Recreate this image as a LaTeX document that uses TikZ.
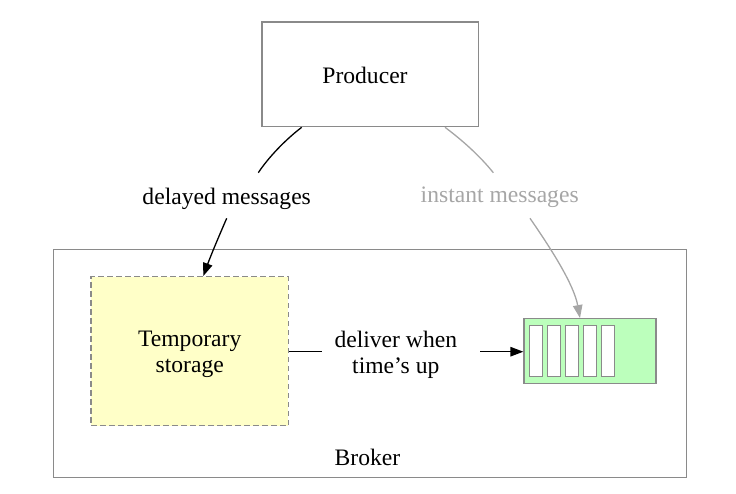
\documentclass[tikz,border=0pt]{standalone}
\usepackage{fontspec}
\setmainfont{Liberation Serif}
\usetikzlibrary{arrows.meta,calc}
\definecolor{framegray}{HTML}{8A8A8A}
\definecolor{softgray}{HTML}{A6A6A6}
\definecolor{paleyellow}{HTML}{FFFFC8}
\definecolor{palegreen}{HTML}{BCFFBC}
\begin{document}
\begin{tikzpicture}[x=1pt,y=-1pt,
  txt/.style={font=\fontsize{23.6}{26.4}\selectfont, inner sep=0pt, align=center},
  box/.style={draw=framegray, line width=1.3pt, inner sep=0pt},
  slot/.style={draw=framegray, fill=white, line width=1.2pt, inner sep=0pt,
    minimum width=13.4pt, minimum height=51.4pt},
  edge/.style={line width=1.3pt, black},
  tip/.style={-{Triangle[length=13pt,width=9.5pt]}},
  faint/.style={line width=1.3pt, softgray}]
\useasboundingbox (0,0) rectangle (736,493);

% broker frame and its caption
\node[box, minimum width=633.4pt, minimum height=228.4pt] (broker) at (370,363.5) {};
\node[txt, anchor=base] (brokerlabel) at (367.5,465) {Broker};

% producer
\node[box, minimum width=216.7pt, minimum height=104.7pt] (producer) at (370.3,74.3) {};
\node[txt] (producerlabel) at (365,75.3) {Producer};

% temporary storage
\node[box, dash pattern=on 5.5pt off 3.5pt, fill=paleyellow,
  minimum width=197.3pt, minimum height=149pt] (storage) at (189.7,351.2) {};
\node[txt] (storagelabel) at (189.7,354.6) {Temporary\\storage};

% queue with its message slots
\node[box, fill=palegreen, minimum width=132pt, minimum height=64.6pt] (queue) at (590,351) {};
\foreach \i in {0,...,4}
  \node[slot] (slot\i) at (536+18*\i,351) {};

% edge labels
\node[txt] (delayed) at (226.7,198.5) {delayed messages};
\node[txt, text=softgray] (instant) at (499.7,197) {instant messages};
\node[txt] (deliver) at (395.8,354.9) {deliver when\\time’s up};

% delayed messages: producer -> storage
\coordinate (delayedin) at (258.3,172.7);
\coordinate (delayedout) at (226.7,218.3);
\draw[edge] ([xshift=-68.6pt]producer.south) .. controls (285,140) and (268,158) .. (delayedin);
\draw[edge, tip] (delayedout) .. controls (219,236) and (211,255) .. ([xshift=13.6pt]storage.north);

% instant messages: producer -> queue
\coordinate (instantin) at (493.3,172.7);
\coordinate (instantout) at (530,218.3);
\draw[faint] ([xshift=74.7pt]producer.south) .. controls (462,140) and (480,156) .. (instantin);
\draw[faint, tip] (instantout) .. controls (552,250) and (574,285) .. ([xshift=-10pt]queue.north);

% deliver when time's up: storage -> queue
\draw[edge] (storage.east |- 0,351.7) -- (321.7,351.7);
\draw[edge, tip] (480,351.7) -- (queue.west |- 0,351.7);
\end{tikzpicture}
\end{document}
